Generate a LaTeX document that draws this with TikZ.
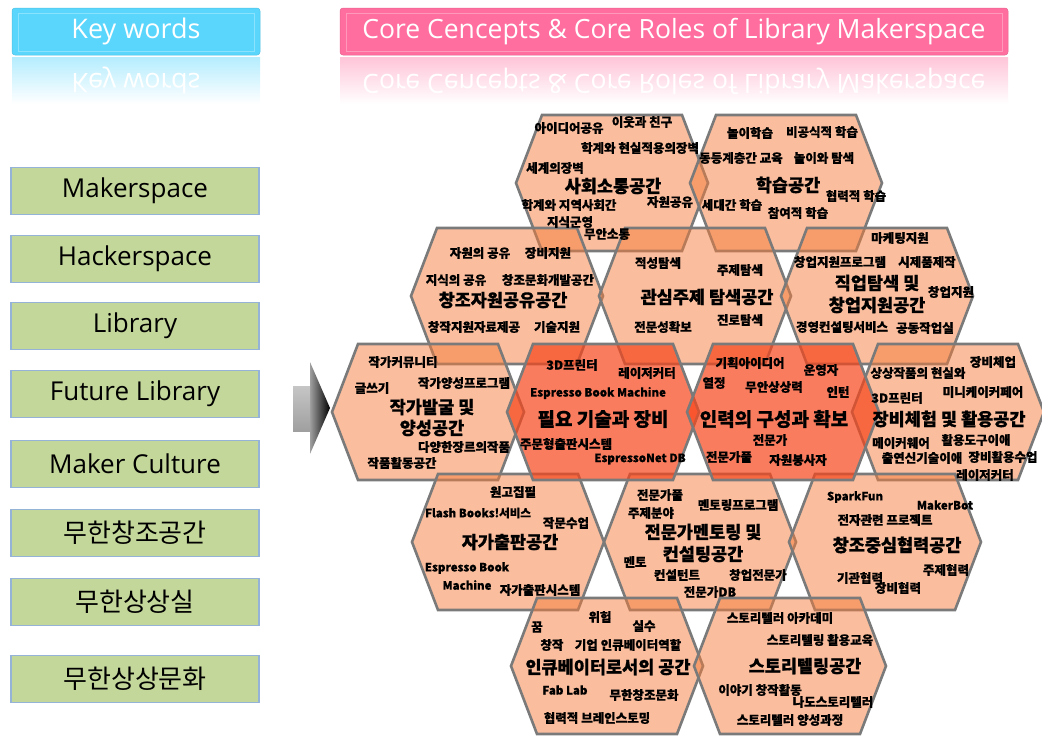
\documentclass[tikz,border=0pt]{standalone}
\usepackage{fontspec}
\setmainfont{Noto Sans CJK KR}[BoldFeatures={FakeBold=0.6}]
\newfontfamily\latf{Open Sans}
\usepackage{graphicx}
\definecolor{hexlight}{RGB}{245,124,59}
\definecolor{hexred}{RGB}{248,69,26}
\definecolor{hexline}{RGB}{122,122,122}
\definecolor{kwgreen}{RGB}{196,215,155}
\definecolor{kwborder}{RGB}{149,179,215}
\definecolor{hdcyan}{RGB}{90,214,252}
\definecolor{hdpink}{RGB}{255,110,158}
\newcommand\hexat[3]{\path[#3] ({#1-96},#2) -- ({#1-70},{#2-68}) -- ({#1+70},{#2-68}) -- ({#1+96},#2) -- ({#1+70},{#2+68}) -- ({#1-70},{#2+68}) -- cycle;}
\begin{document}
\begin{tikzpicture}[x=1pt,y=-1pt,
  kw/.style={draw=kwborder,line width=1.8pt,fill=kwgreen,minimum width=248pt,minimum height=47pt,inner sep=0pt,font=\fontsize{26}{30}\selectfont},
  hdr/.style={rounded corners=3pt,minimum height=47pt,inner sep=0pt,text=white},
  refl/.style={inner sep=0pt,text=white},
  sm/.style={inner sep=0pt,font=\fontsize{12.5}{14}\selectfont\bfseries},
  sme/.style={inner sep=0pt,font=\fontsize{11.5}{13}\selectfont\bfseries},
  big/.style={inner sep=0pt,font=\fontsize{17.5}{20}\selectfont\bfseries},
  bigr/.style={inner sep=0pt,font=\fontsize{19}{22}\selectfont\bfseries},
  hexl/.style={fill=hexlight,fill opacity=0.5,draw=hexline,line width=2.6pt,line join=miter},
  hexr/.style={fill=hexred,fill opacity=0.7,draw=hexline,line width=2.6pt,line join=miter}]
\useasboundingbox (0,0) rectangle (1042,740);

% ---------- headers ----------
\shade[top color=hdcyan!45!white,bottom color=white] (12,57) rectangle (260,104);
\node[refl,font=\latf\fontsize{27}{31}\selectfont] (kwref) at (136,81) {\scalebox{1}[-1]{Key words}};
\node[hdr,fill=hdcyan,draw=hdcyan!90!black,line width=0.5pt,minimum width=248pt,font=\latf\fontsize{27}{31}\selectfont] (kwh) at (136,31.5) {Key words};
\draw[white,opacity=0.3,line width=0.8pt] (18,13) rectangle (254,51);

\shade[top color=hdpink!40!white,bottom color=white] (340,57) rectangle (1008,104);
\node[refl,font=\latf\fontsize{26.5}{30}\selectfont] (ccref) at (674,81) {\scalebox{1}[-1]{Core Cencepts \& Core Roles of Library Makerspace}};
\node[hdr,fill=hdpink,draw=hdpink!90!black,line width=0.5pt,minimum width=668pt,font=\latf\fontsize{26.5}{30}\selectfont] (cch) at (674,31.5) {Core Cencepts \& Core Roles of Library Makerspace};
\draw[white,opacity=0.3,line width=0.8pt] (346,13) rectangle (1002,51);

% ---------- key word boxes ----------
\node[kw] (k1) at (135,191) {\latf Makerspace};
\node[kw] (k2) at (135,259) {\latf Hackerspace};
\node[kw] (k3) at (135,326) {\latf Library};
\node[kw] (k4) at (135,394) {\latf Future Library};
\node[kw] (k5) at (135,464) {\latf Maker Culture};
\node[kw] (k6) at (135,533) {무한창조공간};
\node[kw] (k7) at (135,602) {무한상상실};
\node[kw] (k8) at (135,679) {무한상상문화};

% ---------- arrow ----------
\shade[top color=gray!45,bottom color=gray!75] (293,386) rectangle (312,431);
\shade[left color=gray!75,right color=black] (310,362) -- (330,408) -- (310,454) -- cycle;

% ---------- hexagons ----------
\hexat{612}{183}{hexl}
\hexat{786}{183}{hexl}
\hexat{507}{296}{hexl}
\hexat{695}{296}{hexl}
\hexat{877}{296}{hexl}
\hexat{428}{412}{hexl}
\hexat{948}{412}{hexl}
\hexat{508}{542}{hexl}
\hexat{700}{542}{hexl}
\hexat{885}{542}{hexl}
\hexat{607}{666}{hexl}
\hexat{790}{666}{hexl}
\hexat{603}{412}{hexr}
\hexat{783}{412}{hexr}

% ---------- 사회소통공간 ----------
\node[sm] (a1) at (569,128) {아이디어공유};
\node[sm] (a2) at (642,122) {이웃과 친구};
\node[sm] (a3) at (640,148) {학계와 현실적용의장벽};
\node[sm] (a4) at (555,168) {세계의장벽};
\node[big] (a5) at (613,186) {사회소통공간};
\node[sm] (a6) at (569,205) {학계와 지역사회간};
\node[sm] (a7) at (670,202) {자원공유};
\node[sm] (a8) at (570,222) {지식군영};
\node[sm] (a9) at (607,234) {무안소통};

% ---------- 학습공간 ----------
\node[sm] (b1) at (750,133) {놀이학습};
\node[sm] (b2) at (822,132) {비공식적 학습};
\node[sm] (b3) at (741,158) {동등계층간 교육};
\node[sm] (b4) at (824,158) {놀이와 탐색};
\node[big] (b5) at (788,185) {학습공간};
\node[sm] (b6) at (856,196) {협력적 학습};
\node[sm] (b7) at (732,205) {세대간 학습};
\node[sm] (b8) at (798,213) {참여적 학습};

% ---------- 창조자원공유공간 ----------
\node[sm] (c1) at (480,253) {자원의 공유};
\node[sm] (c2) at (548,253) {장비지원};
\node[sm] (c3) at (456,280) {지식의 공유};
\node[sm] (c4) at (548,280) {창조문화개발공간};
\node[big] (c5) at (503,300) {창조자원공유공간};
\node[sm] (c6) at (474,327) {창작지원자료제공};
\node[sm] (c7) at (557,327) {기술지원};

% ---------- 관심주제 탐색공간 ----------
\node[sm] (d1) at (658,263) {적성탐색};
\node[sm] (d2) at (740,270) {주제탐색};
\node[big] (d3) at (707,297) {관심주제 탐색공간};
\node[sm] (d4) at (663,327) {전문성확보};
\node[sm] (d5) at (740,320) {진로탐색};

% ---------- 직업탐색 및 창업지원공간 ----------
\node[sm] (e1) at (900,238) {마케팅지원};
\node[sm] (e2) at (840,262) {창업지원프로그램};
\node[sm] (e3) at (927,262) {시제품제작};
\node[big] (e4) at (877,283) {직업탐색 및};
\node[big] (e5) at (877,305) {창업지원공간};
\node[sm] (e6) at (951,292) {창업지원};
\node[sm] (e7) at (842,327) {경영컨설팅서비스};
\node[sm] (e8) at (925,328) {공동작업실};

% ---------- 작가발굴 및 양성공간 ----------
\node[sm] (f1) at (403,362) {작가커뮤니티};
\node[sm] (f2) at (372,388) {글쓰기};
\node[sm] (f3) at (464,383) {작가양성프로그램};
\node[big] (f4) at (432,407) {작가발굴 및};
\node[big] (f5) at (432,428) {양성공간};
\node[sm] (f6) at (464,447) {다양한장르의작품};
\node[sm] (f7) at (402,463) {작품활동공간};

% ---------- 필요 기술과 장비 ----------
\node[sm] (g1) at (572,365) {3D프린터};
\node[sm] (g2) at (647,373) {레이저커터};
\node[sme] (g3) at (598,393) {Espresso Book Machine};
\node[bigr] (g4) at (603,419) {필요 기술과 장비};
\node[sm] (g5) at (566,444) {주문형출판시스템};
\node[sme] (g6) at (640,459) {EspressoNet DB};

% ---------- 인력의 구성과 확보 ----------
\node[sm] (h1) at (750,363) {기획아이디어};
\node[sm] (h2) at (821,370) {운영자};
\node[sm] (h3) at (714,383) {열정};
\node[sm] (h4) at (774,387) {무안상상력};
\node[sm] (h5) at (838,392) {인턴};
\node[bigr] (h6) at (774,419) {인력의 구성과 확보};
\node[sm] (h7) at (770,440) {전문가};
\node[sm] (h8) at (729,457) {전문가풀};
\node[sm] (h9) at (798,460) {자원봉사자};

% ---------- 장비체험 및 활용공간 ----------
\node[sm] (i1) at (993,362) {장비체업};
\node[sm] (i2) at (918,373) {상상작품의 현실와};
\node[sm] (i3) at (983,392) {미니케이커페어};
\node[sm] (i4) at (897,398) {3D프린터};
\node[big] (i5) at (949,419) {장비체험 및 활용공간};
\node[sm] (i6) at (901,443) {메이커웨어};
\node[sm] (i7) at (976,440) {활용도구이애};
\node[sm] (i8) at (922,458) {출연신기술이애};
\node[sm] (i9) at (1003,457) {장비활용수업};
\node[sm] (i10) at (985,475) {레이저커터};

% ---------- 자가출판공간 ----------
\node[sm] (j1) at (513,492) {원고집필};
\node[sme] (j2) at (478,513) {Flash Books!서비스};
\node[sm] (j3) at (566,523) {작문수업};
\node[big] (j4) at (510,542) {자가출판공간};
\node[sme] (j5) at (467,568) {Espresso Book};
\node[sme] (j6) at (467,585) {Machine};
\node[sm] (j7) at (540,590) {자가출판시스템};

% ---------- 전문가멘토링 및 컨설팅공간 ----------
\node[sm] (m1) at (660,495) {전문가풀};
\node[sm] (m2) at (738,505) {멘토링프로그램};
\node[sm] (m3) at (651,513) {주제분야};
\node[big] (m4) at (703,532) {전문가멘토링 및};
\node[big] (m5) at (703,554) {컨설팅공간};
\node[sm] (m6) at (635,562) {멘토};
\node[sm] (m7) at (677,575) {컨설턴트};
\node[sm] (m8) at (758,575) {창업전문가};
\node[sm] (m9) at (710,592) {전문가DB};

% ---------- 창조중심협력공간 ----------
\node[sme] (n1) at (855,497) {SparkFun};
\node[sme] (n2) at (945,505) {MakerBot};
\node[sm] (n3) at (885,520) {전자관련 프로젝트};
\node[big] (n4) at (897,545) {창조중심협력공간};
\node[sm] (n5) at (860,578) {기관협력};
\node[sm] (n6) at (946,570) {주제협력};
\node[sm] (n7) at (898,588) {장비협력};

% ---------- 인큐베이터로서의 공간 ----------
\node[sm] (p1) at (600,617) {위험};
\node[sm] (p2) at (644,626) {실수};
\node[sm] (p3) at (537,627) {꿈};
\node[sm] (p4) at (552,645) {창작};
\node[sm] (p5) at (628,645) {기업 인큐베이터역할};
\node[big] (p6) at (608,667) {인큐베이터로서의 공간};
\node[sme] (p7) at (565,690) {Fab Lab};
\node[sm] (p8) at (644,695) {무한창조문화};
\node[sm] (p9) at (597,718) {협력적 브레인스토밍};

% ---------- 스토리텔링공간 ----------
\node[sm] (q1) at (780,618) {스토리텔러 아카데미};
\node[sm] (q2) at (820,640) {스토리텔링 활용교육};
\node[big] (q3) at (805,666) {스토리텔링공간};
\node[sm] (q4) at (760,690) {이야기 창작활동};
\node[sm] (q5) at (833,702) {나도스토리텔러};
\node[sm] (q6) at (790,720) {스토리텔러 양성과정};
\end{tikzpicture}
\end{document}
